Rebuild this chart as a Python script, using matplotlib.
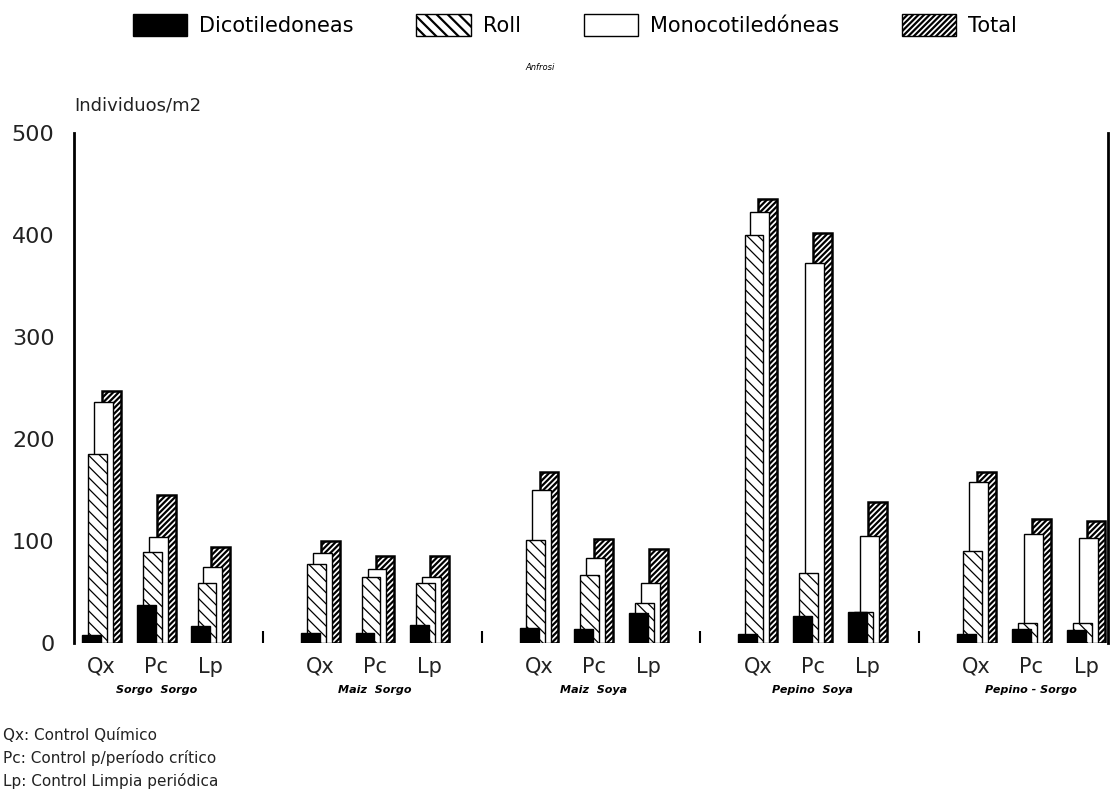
import numpy as np
import matplotlib.pyplot as plt
from matplotlib.patches import Patch

# datos (individuos/m2)
grupos = ['Sorgo  Sorgo', 'Maiz  Sorgo', 'Maiz  Soya', 'Pepino  Soya', 'Pepino - Sorgo']
controles = ['Qx', 'Pc', 'Lp']

dicot = [8, 37, 17, 10, 10, 18, 15, 14, 29, 9, 26, 30, 9, 14, 13]
roll = [185, 89, 59, 77, 65, 59, 101, 67, 39, 400, 69, 30, 90, 20, 20]
mono = [236, 104, 75, 88, 73, 65, 150, 83, 59, 423, 373, 105, 158, 107, 103]
total = [247, 145, 94, 100, 85, 85, 168, 102, 92, 435, 402, 138, 168, 122, 120]

notas = ['Qx: Control Químico', 'Pc: Control p/período crítico', 'Lp: Control Limpia periódica']

plt.rcParams['font.family'] = ['DejaVu Sans']
plt.rcParams['hatch.linewidth'] = 1.6

fig = plt.figure(figsize=(11.19, 8.07), dpi=100)
ax = fig.add_axes([74 / 1119, 1 - 643 / 807, (1108 - 74) / 1119, (643 - 133) / 807])

pos = np.array([4 * g + i for g in range(len(grupos)) for i in range(len(controles))])
w = 0.345

# de atras hacia adelante: total, mono, roll, dicot
ax.bar(pos + 0.009, total, w, align='edge', color='white', edgecolor='black',
       hatch='//////', linewidth=1.8, zorder=1)
ax.bar(pos - 0.136, mono, w, align='edge', color='white', edgecolor='black',
       linewidth=1.0, zorder=2)
b_roll = ax.bar(pos - 0.245, roll, w, align='edge', color='white', edgecolor='black',
                hatch='\\\\\\', linewidth=1.0, zorder=3)
for p in b_roll:
    try:
        p.set_hatch_linewidth(0.9)
    except AttributeError:
        pass
ax.bar(pos - 0.355, dicot, w, align='edge', color='black', edgecolor='black',
       linewidth=1.0, zorder=4)

# separadores entre grupos
sep = np.arange(len(grupos) - 1) * 4 + 3
ax.vlines(sep - 0.05, 0, 12, color='black', linewidth=1.5)

ax.set_xlim(-0.503, 18.4)
ax.set_ylim(0, 500)
ax.set_yticks([0, 100, 200, 300, 400, 500])
ax.tick_params(axis='y', length=0, labelsize=16, pad=14, labelcolor='#222222')
ax.set_xticks(pos)
ax.set_xticklabels(controles * len(grupos), fontsize=15)
ax.tick_params(axis='x', length=0, pad=10, labelcolor='#222222')

for s in ['top', 'bottom']:
    ax.spines[s].set_visible(False)
ax.spines['left'].set_linewidth(2)
ax.spines['right'].set_linewidth(2)

for g, nombre in enumerate(grupos):
    ax.text(4 * g + 1, -46, nombre, ha='center', va='center', fontsize=8,
            style='italic', fontweight='bold')

fig.text(74 / 1119, 1 - 105 / 807, 'Individuos/m2', fontsize=13, ha='left', va='center',
         color='#222222')
fig.text(540 / 1119, 1 - 68 / 807, 'Anfrosi', fontsize=6, style='italic', ha='center',
         va='center')

for k, t in enumerate(notas):
    fig.text(3 / 1119, 1 - (735 + 23 * k) / 807, t, fontsize=11, ha='left', va='center',
             color='#222222')

handles = [
    Patch(facecolor='black', edgecolor='black'),
    Patch(facecolor='white', edgecolor='black', hatch='\\\\\\'),
    Patch(facecolor='white', edgecolor='black'),
    Patch(facecolor='white', edgecolor='black', hatch='//////'),
]
etiquetas = ['Dicotiledoneas', 'Roll', 'Monocotiledóneas', 'Total']
fig.legend(handles, etiquetas, loc='center', bbox_to_anchor=(575 / 1119, 1 - 25 / 807),
           ncol=4, frameon=False, fontsize=15, handlelength=2.6, handleheight=1.2,
           columnspacing=3.0, handletextpad=0.6)

fig.savefig('out.png', dpi=100)
